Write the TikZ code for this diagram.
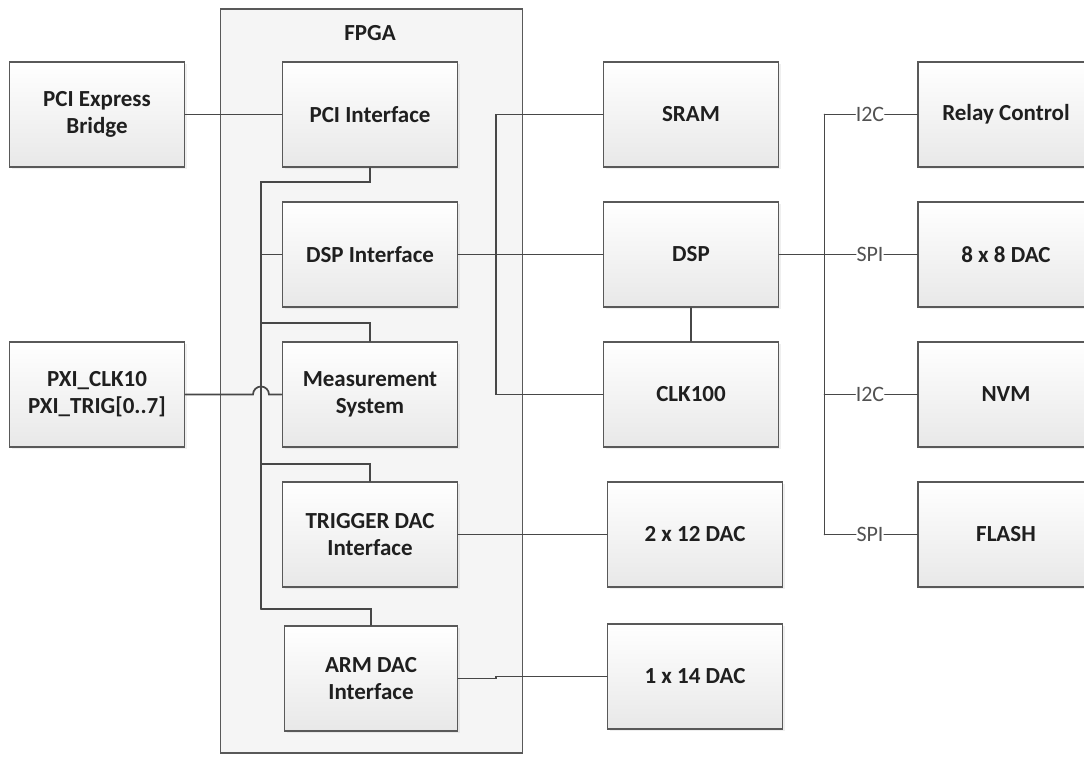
\documentclass[tikz,border=0pt]{standalone}
\usepackage{fontspec}
\setmainfont{Carlito}
\usetikzlibrary{calc,shadows}

\begin{document}
\begin{tikzpicture}[x=1pt, y=-1pt, line cap=round,
  unit/.style={draw=boxG, line width=1.8pt, top color=white, bottom color=black!9,
    minimum width=175pt, minimum height=105pt, inner sep=2pt, align=center,
    font=\bfseries\fontsize{23}{27}\selectfont, text=txtK,
    drop shadow={opacity=0.12, shadow xshift=2pt, shadow yshift=-2pt}},
  wire/.style={draw=wireG, line width=1.7pt},
  buslbl/.style={font=\fontsize{22}{26}\selectfont, text=lblG, inner sep=0.5pt}]
\colorlet{boxG}{black!65}
\colorlet{wireG}{black!72}
\colorlet{txtK}{black!88}
\colorlet{lblG}{black!68}
\colorlet{fpgaF}{black!4}
% ---- page ----
\clip (0,0) rectangle (1084,757);
\fill[white] (0,0) rectangle (1084,757);
% ---- FPGA container ----
\node[draw=boxG, line width=1.6pt, fill=fpgaF, minimum width=302pt,
  minimum height=744pt, inner sep=0pt] (fpga) at (371.5,381) {};
\node[font=\bfseries\fontsize{23}{27}\selectfont, text=txtK] (fpgalbl)
  at (370,33) {FPGA};
% ---- left column ----
\node[unit] (pcie) at (97,114.5) {PCI Express\\Bridge};
\node[unit] (pxi) at (97,394.5) {PXI\_CLK10\\PXI\_TRIG[0..7]};
% ---- FPGA blocks ----
\node[unit] (pciif) at (370,114.5) {PCI Interface};
\node[unit] (dspif) at (370,254.5) {DSP Interface};
\node[unit] (meas) at (370,394.5) {Measurement\\System};
\node[unit] (trig) at (370,534.5) {TRIGGER DAC\\Interface};
\node[unit, minimum width=173pt] (arm) at (371,678.5) {ARM DAC\\Interface};
% ---- middle column ----
\node[unit] (sram) at (691,114.5) {SRAM};
\node[unit] (dsp) at (691,254.5) {DSP};
\node[unit] (clk) at (691,394.5) {CLK100};
\node[unit] (dac12) at (695,534.5) {2 x 12 DAC};
\node[unit] (dac14) at (695,676.5) {1 x 14 DAC};
% ---- right column ----
\node[unit, minimum width=176pt] (relay) at (1006,114.5) {Relay Control};
\node[unit, minimum width=176pt] (dac8) at (1006,254.5) {8 x 8 DAC};
\node[unit, minimum width=176pt] (nvm) at (1006,394.5) {NVM};
\node[unit, minimum width=176pt] (flash) at (1006,534.5) {FLASH};
% ---- bus points ----
\coordinate (bp) at (261,182);
\coordinate (bm) at (261,323);
\coordinate (bt) at (261,464);
\coordinate (ba) at (261,609);
\coordinate (mb) at (496,0);
\coordinate (rb) at (824.5,0);
% ---- internal FPGA bus ----
\draw[wire] (pciif.south) |- (bp) -- (ba);
\draw[wire] (dspif.west) -- (dspif.west -| bp);
\draw[wire] (meas.north) |- (bm);
\draw[wire] (trig.north) |- (bt);
\draw[wire] (arm.north) |- (ba);
% ---- host side ----
\draw[wire] (pcie) -- (pciif);
\draw[wire] (pxi.east) -- ($(pxi.east -| bp)+(-8,0)$)
  arc[start angle=180, end angle=0, radius=8pt] -- (meas.west);
% ---- DSP side ----
\draw[wire] (sram.west) -- (sram.west -| mb) -- (clk.west -| mb) -- (clk.west);
\draw[wire] (dspif) -- (dsp);
\draw[wire] (dsp) -- (clk);
\draw[wire] (trig) -- (dac12);
\draw[wire] (arm.east) -- (arm.east -| mb) |- (dac14.west);
% ---- serial buses ----
\draw[wire] (relay.west -| rb) -- (flash.west -| rb);
\draw[wire] (dsp) -- (dsp.east -| rb);
\node[buslbl] (i2ca) at (870,114.5) {I2C};
\node[buslbl] (spia) at (870,254.5) {SPI};
\node[buslbl] (i2cb) at (870,394.5) {I2C};
\node[buslbl] (spib) at (870,534.5) {SPI};
\draw[wire] (relay.west -| rb) -- (i2ca) -- (relay);
\draw[wire] (dac8.west -| rb) -- (spia) -- (dac8);
\draw[wire] (nvm.west -| rb) -- (i2cb) -- (nvm);
\draw[wire] (flash.west -| rb) -- (spib) -- (flash);
\end{tikzpicture}
\end{document}
